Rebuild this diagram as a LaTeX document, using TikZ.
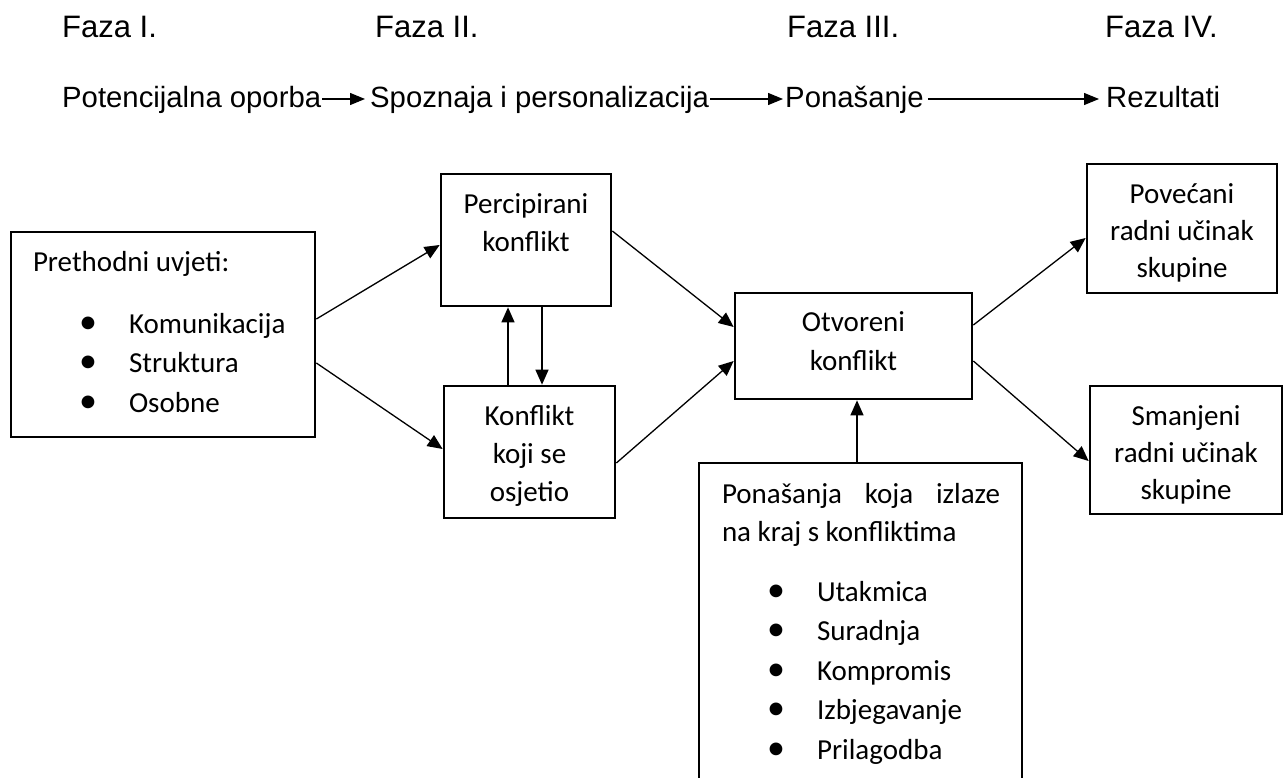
\documentclass[tikz,border=0pt]{standalone}
\usepackage{fontspec}
\setmainfont{Carlito}
\newfontfamily\arialfont{Liberation Sans}
\usetikzlibrary{arrows.meta}
\newcommand\st{\rule[-7pt]{0pt}{36pt}}
\newcommand\bulletglyph{{\fontsize{36}{36}\selectfont\textbullet}}
\newcommand\bl[1]{\makebox[0pt][l]{\hspace*{77pt}\makebox[0pt]{\bulletglyph}\hspace*{41pt}#1}}
\tikzset{
  box/.style={draw, line width=2.7pt, inner sep=0pt},
  arr/.style={line width=1.3pt, -{Triangle[length=15pt,width=13pt]}},
  tarr/.style={line width=1.2pt, -{Triangle[length=15pt,width=12pt]}},
  phase/.style={font=\arialfont\fontsize{29.3}{34}\selectfont, inner xsep=1pt, inner ysep=0pt, anchor=base west},
  head/.style={font=\arialfont\fontsize{31}{36}\selectfont, inner xsep=1pt, inner ysep=0pt, anchor=base west}
}
\begin{document}
\begin{tikzpicture}[x=1pt,y=-1pt]
\clip (0,0) rectangle (1287,778);
\fill[white] (0,0) rectangle (1287,778);
% phase headings
\node[head] (f1) at (61,38) {Faza I.};
\node[head] (f2) at (374,38) {Faza II.};
\node[head] (f3) at (786,38) {Faza III.};
\node[head] (f4) at (1104,38) {Faza IV.};
% phase row
\node[phase] (s1) at (61,108) {Potencijalna oporba};
\node[phase] (s2) at (369,108) {Spoznaja i personalizacija};
\node[phase] (s3) at (784,108) {Ponašanje};
\node[phase] (s4) at (1105,108) {Rezultati};
\draw[tarr, shorten >=4pt] ([yshift=9pt]s1.base east) -- ([yshift=9pt]s2.base west);
\draw[tarr, shorten >=1pt] ([yshift=9pt]s2.base east) -- ([yshift=9pt]s3.base west);
\draw[tarr, shorten <=3pt, shorten >=6pt] ([yshift=9pt]s3.base east) -- ([yshift=9pt]s4.base west);
% boxes
\node[box] (pre) at (163,334.5) {\parbox[c][205pt][t]{304pt}{\fontsize{29}{39.5}\selectfont\vspace*{10pt}\st\hspace*{22pt}Prethodni uvjeti:\\[22.5pt]\st\bl{Komunikacija}\\\st\bl{Struktura}\\\st\bl{Osobne}}};
\node[box] (per) at (526,240) {\parbox[c][132pt][t]{170pt}{\centering\fontsize{29}{38.5}\selectfont\vspace*{10pt}\st Percipirani\\\st konflikt}};
\node[box] (kon) at (529.5,452) {\parbox[c][132pt][t]{171pt}{\centering\fontsize{29}{38}\selectfont\vspace*{10pt}\st Konflikt\\\st koji se\\\st osjetio}};
\node[box] (otv) at (853.5,346) {\parbox[c][106pt][t]{237pt}{\centering\fontsize{29}{39}\selectfont\vspace*{9pt}\st Otvoreni\\\st konflikt}};
\node[box] (pov) at (1182,228.5) {\parbox[c][129pt][t]{190pt}{\centering\fontsize{29}{37.5}\selectfont\vspace*{10pt}\st Povećani\\\st radni učinak\\\st skupine}};
\node[box] (sma) at (1186,450) {\parbox[c][128pt][t]{192pt}{\centering\fontsize{29}{37}\selectfont\vspace*{10pt}\st Smanjeni\\\st radni učinak\\\st skupine}};
\node[box] (pon) at (860.5,631.5) {\parbox[c][337pt][t]{323pt}{\fontsize{29}{39.5}\selectfont\vspace*{11pt}\st\hspace*{23pt}\makebox[278pt][s]{Ponašanja koja izlaze}\\[-1.5pt]\st\hspace*{23pt}na kraj s konfliktima\\[20.5pt]\st\bl{Utakmica}\\\st\bl{Suradnja}\\\st\bl{Kompromis}\\\st\bl{Izbjegavanje}\\\st\bl{Prilagodba}}};
% connectors
\draw[arr] ([yshift=15.5pt]pre.east) -- ([yshift=-5pt]per.west);
\draw[arr] ([yshift=-28.5pt]pre.east) -- ([yshift=3pt]kon.west);
\draw[arr] ([yshift=9pt]per.east) -- ([yshift=19pt]otv.west);
\draw[arr] ([yshift=-11pt]kon.east) -- ([yshift=-15pt]otv.west);
\draw[arr] ([xshift=-21.5pt]kon.north) -- ([xshift=-21.5pt]kon.north |- per.south);
\draw[arr] ([xshift=16pt]per.south) -- ([xshift=16pt]per.south |- kon.north);
\draw[arr] ([yshift=21pt]otv.east) -- ([yshift=-9.5pt]pov.west);
\draw[arr] ([yshift=-15pt]otv.east) -- ([yshift=-11pt]sma.west);
\draw[arr] ([xshift=-3.5pt]pon.north) -- ([xshift=-3.5pt]pon.north |- otv.south);
\end{tikzpicture}
\end{document}
